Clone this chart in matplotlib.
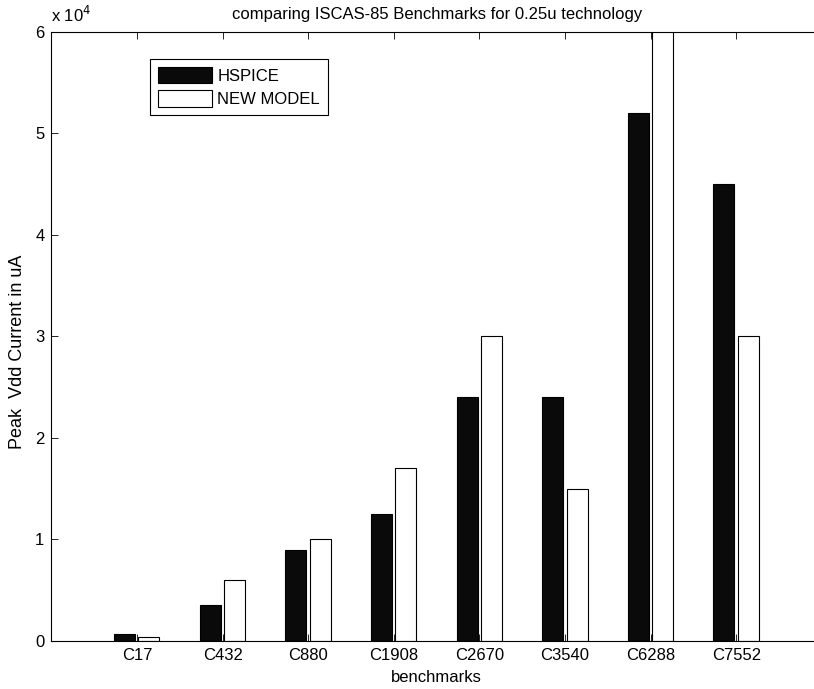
import numpy as np
from matplotlib import pyplot as plt

plt.rcParams['font.family'] = ['Liberation Sans', 'DejaVu Sans']

benchmarks = ['C17', 'C432', 'C880', 'C1908', 'C2670', 'C3540', 'C6288', 'C7552']
hspice = [700, 3500, 9000, 12500, 24000, 24000, 52000, 45000]
new_model = [400, 6000, 10000, 17000, 30000, 15000, 65000, 30000]

fig = plt.figure(figsize=(8.14, 6.89), dpi=100)
ax = fig.add_axes([0.0631, 0.0697, 0.9467, 0.8839])

x = np.arange(1, len(benchmarks) + 1)
width = 0.245  # 막대 너비

ax.bar(x - 0.145, np.array(hspice) / 1e4, width, label='HSPICE',
       color='#0a0a0a', edgecolor='black', linewidth=0.8)
ax.bar(x + 0.14, np.array(new_model) / 1e4, width, label='NEW MODEL',
       color='white', edgecolor='black', linewidth=0.8)

ax.set_xlim(0, 9)
ax.set_ylim(0, 6)
ax.set_xticks(x)
ax.set_xticklabels(benchmarks)
ax.set_yticks(range(0, 7))
ax.tick_params(direction='in', length=5, width=0.6, labelsize=12, top=True, right=True)
ax.tick_params(axis='x', pad=5)
ax.tick_params(axis='y', pad=5)
for s in ax.spines.values():
    s.set_linewidth(0.8)

ax.set_xlabel('benchmarks', fontsize=12, labelpad=5)
ax.set_ylabel('Peak  Vdd Current in uA', fontsize=13)
ax.yaxis.set_label_coords(-0.033, 0.4745)
ax.set_title('comparing ISCAS-85 Benchmarks for 0.25u technology', fontsize=12, pad=9)
ax.text(0.0, 1.012, r'x 10$^4$', transform=ax.transAxes, fontsize=12, va='bottom', ha='left')

leg = ax.legend(loc='upper left', bbox_to_anchor=(0.128, 0.9557), fontsize=12,
                fancybox=False, framealpha=1, edgecolor='black',
                handlelength=3.25, handleheight=1.12, borderpad=0.48,
                labelspacing=0.4, handletextpad=0.3, borderaxespad=0)
leg.get_frame().set_linewidth(0.8)

plt.savefig('out.png', dpi=100)
